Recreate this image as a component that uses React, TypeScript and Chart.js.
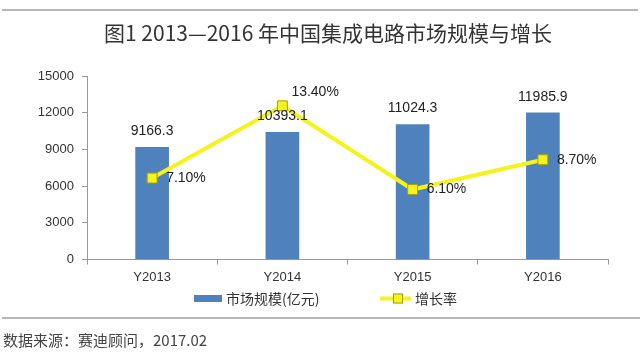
import React, { useEffect, useRef } from "react";
import { Chart, registerables } from "chart.js";

Chart.register(...registerables);

const categories = ["Y2013", "Y2014", "Y2015", "Y2016"];
const marketSize = [9166.3, 10393.1, 11024.3, 11985.9];
const growthRate = [7.1, 13.4, 6.1, 8.7];
const yMax = 15000;
const yStep = 3000;
const rateMax = 16;
const titleText = "图1 2013—2016 年中国集成电路市场规模与增长";
const sourceText = "数据来源：赛迪顾问，2017.02";
const seriesNames = ["市场规模(亿元)", "增长率"];

const BAR_COLOR = "#4F81BD";
const LINE_COLOR = "#F4F41C";
const MARKER_BORDER = "#A8A000";
const CJK = "'Noto Sans CJK SC', 'Noto Sans', sans-serif";
const LATIN = "'Liberation Sans', Arial, sans-serif";

const decorPlugin = {
  id: "decor",
  beforeDraw(chart: any) {
    const { ctx, width, height } = chart;
    ctx.save();
    ctx.fillStyle = "#ffffff";
    ctx.fillRect(0, 0, width, height);
    ctx.strokeStyle = "#a0a0a0";
    ctx.lineWidth = 1.5;
    ctx.beginPath();
    ctx.moveTo(2, 10);
    ctx.lineTo(width - 2, 10);
    ctx.moveTo(2, 318);
    ctx.lineTo(width, 318);
    ctx.stroke();
    ctx.fillStyle = "#333333";
    ctx.font = `21px ${CJK}`;
    ctx.textAlign = "center";
    ctx.textBaseline = "middle";
    ctx.fillText(titleText, 328, 33);
    ctx.fillStyle = "#444444";
    ctx.font = `15px ${CJK}`;
    ctx.textAlign = "left";
    ctx.fillText(sourceText, 3, 340);
    ctx.restore();
  },
  afterDraw(chart: any) {
    const { ctx } = chart;
    ctx.save();
    // legend
    const ly = 298.5;
    ctx.fillStyle = BAR_COLOR;
    ctx.fillRect(194, ly - 3.5, 28, 7);
    ctx.fillStyle = "#333333";
    ctx.font = `14px ${CJK}`;
    ctx.textBaseline = "middle";
    ctx.textAlign = "left";
    ctx.fillText(seriesNames[0], 226, ly);
    ctx.strokeStyle = LINE_COLOR;
    ctx.lineWidth = 4;
    ctx.beginPath();
    ctx.moveTo(380, ly);
    ctx.lineTo(411, ly);
    ctx.stroke();
    ctx.fillStyle = LINE_COLOR;
    ctx.fillRect(393, ly - 5, 10, 10);
    ctx.strokeStyle = MARKER_BORDER;
    ctx.lineWidth = 1;
    ctx.strokeRect(393.5, ly - 4.5, 9, 9);
    ctx.fillStyle = "#333333";
    ctx.fillText(seriesNames[1], 415, ly);
    ctx.restore();
  },
  afterDatasetsDraw(chart: any) {
    const { ctx } = chart;
    ctx.save();
    ctx.font = `14px ${LATIN}`;
    ctx.fillStyle = "#222222";
    ctx.textBaseline = "middle";
    const barMeta = chart.getDatasetMeta(1);
    barMeta.data.forEach((el: any, i: number) => {
      ctx.textAlign = "center";
      ctx.fillText(marketSize[i].toFixed(1), el.x, el.y - 16);
    });
    const lineMeta = chart.getDatasetMeta(0);
    lineMeta.data.forEach((el: any, i: number) => {
      const txt = growthRate[i].toFixed(2) + "%";
      ctx.textAlign = "left";
      const isPeak = growthRate[i] === Math.max(...growthRate);
      if (isPeak) ctx.fillText(txt, el.x + 9, el.y - 14);
      else ctx.fillText(txt, el.x + 14, el.y);
    });
    ctx.restore();
  },
};

export default function App() {
  const ref = useRef<HTMLCanvasElement>(null);
  useEffect(() => {
    if (!ref.current) return;
    const chart = new Chart(ref.current, {
      data: {
        labels: categories,
        datasets: [
          {
            type: "line",
            label: seriesNames[1],
            data: growthRate,
            yAxisID: "y1",
            borderColor: LINE_COLOR,
            borderWidth: 4,
            pointStyle: "rect",
            pointRadius: 7,
            pointBackgroundColor: LINE_COLOR,
            pointBorderColor: MARKER_BORDER,
            pointBorderWidth: 1,
            tension: 0,
            order: 0,
          },
          {
            type: "bar",
            label: seriesNames[0],
            data: marketSize,
            yAxisID: "y",
            backgroundColor: BAR_COLOR,
            barThickness: 33,
            order: 1,
          },
        ],
      } as any,
      options: {
        responsive: false,
        animation: false,
        layout: { padding: { top: 76, right: 32, left: 0, bottom: 0 } },
        plugins: { legend: { display: false }, tooltip: { enabled: false }, title: { display: false } },
        scales: {
          x: {
            type: "category",
            offset: true,
            grid: { offset: true, drawOnChartArea: false, tickLength: 5, color: "#999999" },
            border: { color: "#999999" },
            ticks: { font: { family: LATIN, size: 13 }, color: "#333333", padding: 5 },
            afterFit(scale: any) {
              scale.height = 95.5;
            },
          },
          y: {
            position: "left",
            min: 0,
            max: yMax,
            ticks: {
              stepSize: yStep,
              font: { family: LATIN, size: 13 },
              color: "#333333",
              padding: 8,
              callback: (v: any) => String(v),
            },
            grid: { drawOnChartArea: false, tickLength: 5, color: "#999999" },
            border: { color: "#999999" },
            afterFit(scale: any) {
              scale.width = 87;
            },
          },
          y1: {
            display: false,
            min: 0,
            max: rateMax,
          },
        },
      } as any,
      plugins: [decorPlugin],
    });
    return () => chart.destroy();
  }, []);
  return (
    <div style={{ position: "fixed", left: 0, top: 0, width: 640, height: 355, background: "#fff" }}>
      <canvas ref={ref} width={640} height={355} style={{ display: "block", width: 640, height: 355 }} />
    </div>
  );
}
